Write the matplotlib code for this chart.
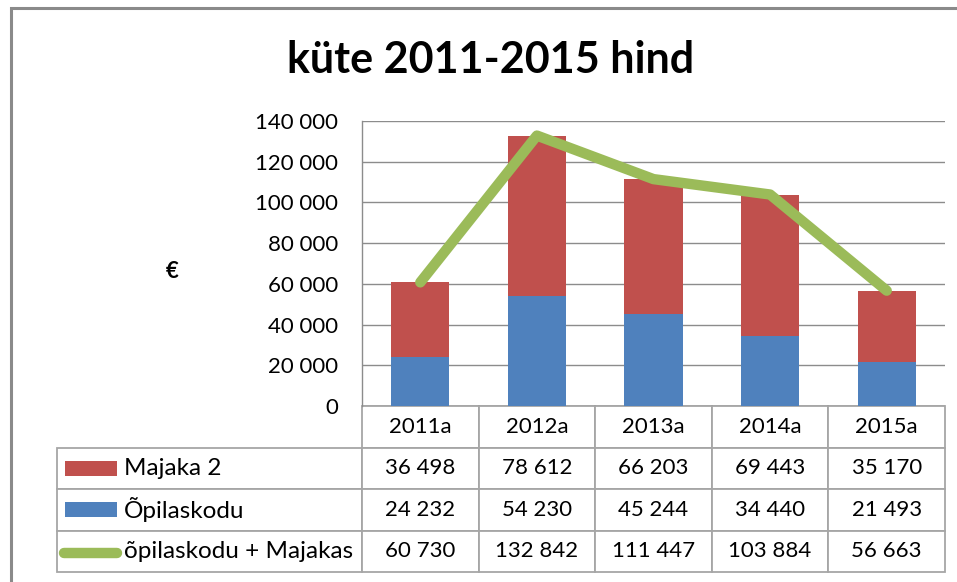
import matplotlib
matplotlib.use("Agg")
import matplotlib.pyplot as plt
from matplotlib.patches import Rectangle
from matplotlib.lines import Line2D
from matplotlib.ticker import FuncFormatter, MultipleLocator
import numpy as np

plt.rcParams['font.family'] = ['Lato', 'DejaVu Sans']

categories = ["2011a", "2012a", "2013a", "2014a", "2015a"]
majaka2 = [36498, 78612, 66203, 69443, 35170]
opilaskodu = [24232, 54230, 45244, 34440, 21493]
kokku = [60730, 132842, 111447, 103884, 56663]
series_names = ["Majaka 2", "Õpilaskodu", "õpilaskodu + Majakas"]

RED = "#C0504D"
BLUE = "#4F81BD"
GREEN = "#9BBB59"
GRID = "#8C8C8C"
TBL = "#A6A6A6"
FS = 16

W, H = 957, 582
fig = plt.figure(figsize=(W / 100, H / 100), dpi=100)

# outer frame
fig.patches.append(Rectangle((11 / W, -0.05), 1.1, (H - 8) / H + 0.05, transform=fig.transFigure,
                             fill=False, edgecolor="#8A8A8A", linewidth=2.2))

px_l, px_r, px_t, px_b = 362, 945, 121, 406
ax = fig.add_axes([px_l / W, (H - px_b) / H, (px_r - px_l) / W, (px_b - px_t) / H])

x = np.arange(len(categories))
ax.bar(x, opilaskodu, width=0.5, color=BLUE, zorder=2)
ax.bar(x, majaka2, width=0.5, bottom=opilaskodu, color=RED, zorder=2)
ax.plot(x, kokku, color=GREEN, linewidth=7.5, solid_capstyle="round",
        solid_joinstyle="round", zorder=3)

ax.set_xlim(-0.5, len(categories) - 0.5)
ax.set_ylim(0, 140000)
ax.yaxis.set_major_locator(MultipleLocator(20000))
ax.yaxis.set_major_formatter(FuncFormatter(lambda v, p: f"{int(v):,}".replace(",", " ")))
ax.grid(axis="y", color=GRID, linewidth=1.0, zorder=0)
ax.set_axisbelow(True)
for s in ["top", "right", "bottom"]:
    ax.spines[s].set_visible(False)
ax.spines["left"].set_color(GRID)
ax.spines["left"].set_linewidth(1.0)
ax.tick_params(axis="y", length=0, pad=17, labelsize=FS, colors="black")
ax.tick_params(axis="x", length=0, labelbottom=False)

# data table
cell_text = [[f"{v:,}".replace(",", " ") for v in row] for row in (majaka2, opilaskodu, kokku)]
ax_w = px_r - px_l
ax_h = px_b - px_t
lab_w = (px_l - 57) / ax_w
tbl_h = (572 - px_b) / ax_h
col_w = 1 / len(categories)
tbl = ax.table(cellText=cell_text, rowLabels=series_names, colLabels=categories,
               colWidths=[col_w] * len(categories),
               cellLoc="center", rowLoc="left",
               bbox=[0, -tbl_h, 1, tbl_h])
tbl._autoColumns = []
tbl.auto_set_font_size(False)
tbl.set_fontsize(FS)
for (r, c), cell in tbl.get_celld().items():
    cell.set_edgecolor(TBL)
    cell.set_linewidth(1.3)
    cell.get_text().set_fontsize(FS)
    if c == -1:
        cell.set_width(lab_w)
        cell.PAD = 67 / (px_l - 57)
        cell.get_text().set_fontsize(17.5)
    else:
        cell.set_width(col_w)

# legend keys inside table row labels
def axc(px, py):
    return (px - px_l) / ax_w, (px_b - py) / ax_h

for color, yc in [(RED, 468), (BLUE, 509)]:
    x0, y0 = axc(65, yc + 7.5)
    x1, y1 = axc(117, yc - 7.5)
    ax.add_patch(Rectangle((x0, y0), x1 - x0, y1 - y0, transform=ax.transAxes,
                           facecolor=color, edgecolor="none", clip_on=False, zorder=5))
lx0, ly = axc(64, 553)
lx1, _ = axc(117, 553)
ax.add_line(Line2D([lx0, lx1], [ly, ly], transform=ax.transAxes, color=GREEN,
                   linewidth=7.5, solid_capstyle="round", clip_on=False, zorder=5))

# title and axis label
fig.text(491 / W, 1 - 60 / H, "küte 2011-2015 hind", ha="center", va="center",
         fontsize=31, fontweight="bold")
fig.text(172 / W, 1 - 272 / H, "€", ha="center", va="center", fontsize=FS, fontweight="bold")

fig.savefig("out.png", dpi=100)
